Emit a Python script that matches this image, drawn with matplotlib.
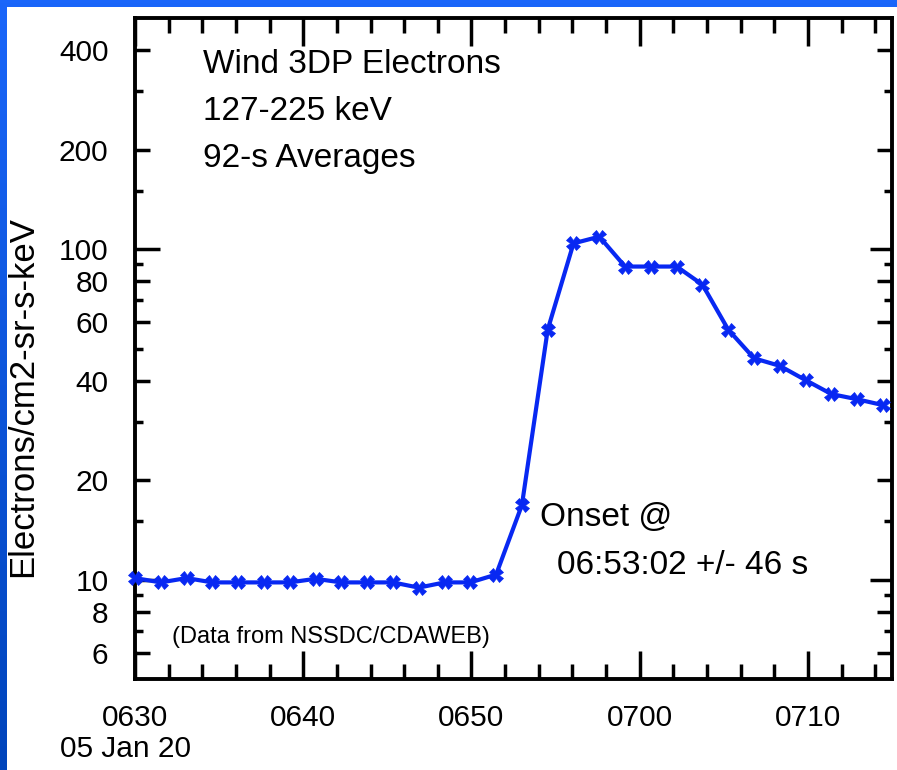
import matplotlib
matplotlib.use("Agg")
import numpy as np
import matplotlib.pyplot as plt
from matplotlib.colors import LinearSegmentedColormap
from matplotlib.patches import Rectangle
from matplotlib.ticker import FixedLocator, FixedFormatter, NullFormatter

plt.rcParams['font.family'] = ['Liberation Sans', 'DejaVu Sans']

# seconds after 06:30:00 (92-s averages)
t_sec = [0, 92, 184, 276, 368, 460, 552, 644, 736, 828,
         920, 1012, 1104, 1196, 1288, 1380, 1472, 1564, 1656, 1748,
         1840, 1932, 2024, 2116, 2208, 2300, 2392, 2484, 2576, 2668]
flux = [10.1, 9.8, 10.1, 9.8, 9.8, 9.8, 9.8, 10.05, 9.8, 9.8,
        9.8, 9.45, 9.8, 9.8, 10.35, 16.8, 57, 104, 109, 88.5,
        88.5, 88.5, 78, 57, 46.7, 44.3, 40.1, 36.4, 35.1, 33.7]

xtick_min = [0, 10, 20, 30, 40]
xtick_labels = ['0630', '0640', '0650', '0700', '0710']
xminor_min = [2, 4, 6, 8, 12, 14, 16, 18, 22, 24, 26, 28, 32, 34, 36, 38, 42, 44]
ytick_vals = [6, 8, 10, 20, 40, 60, 80, 100, 200, 400]
ytick_long = [10, 100]
yminor_vals = [7, 9, 15, 30, 50, 70, 90, 150, 300]

BLUE = '#0828f2'

fig = plt.figure(figsize=(8.97, 7.70), dpi=100)

# slide background: blue gradient frame with white panel
bg = fig.add_axes([0, 0, 1, 1], zorder=-5)
grad = LinearSegmentedColormap.from_list('slide', ['#1a66fa', '#0044bb'])
bg.imshow(np.linspace(0, 1, 256).reshape(-1, 1), aspect='auto', cmap=grad,
          extent=[0, 1, 1, 0])
bg.add_patch(Rectangle((7/897, 7/770), 1, 1, facecolor='white', edgecolor='none'))
bg.set_xlim(0, 1)
bg.set_ylim(1, 0)
bg.axis('off')

ax = fig.add_axes([135/897, 1 - 679/770, 757/897, 661/770])
ax.set_yscale('log')
ax.set_xlim(0, 45)
ax.set_ylim(5, 500)

ax.plot([t / 60 for t in t_sec], flux, color=BLUE, lw=3, marker='X',
        markersize=9.5, markeredgewidth=0.5, clip_on=False, zorder=3)

for s in ax.spines.values():
    s.set_linewidth(2.8)

ax.xaxis.set_major_locator(FixedLocator(xtick_min))
ax.xaxis.set_minor_locator(FixedLocator(xminor_min))
ax.set_xticklabels(xtick_labels)
ax.yaxis.set_major_locator(FixedLocator(ytick_vals))
ax.yaxis.set_minor_locator(FixedLocator(yminor_vals))
ax.yaxis.set_major_formatter(FixedFormatter([str(v) for v in ytick_vals]))
ax.yaxis.set_minor_formatter(NullFormatter())

ax.tick_params(which='both', direction='in', top=True, right=True, width=2.5,
               labelsize=21.5, colors='black')
ax.tick_params(axis='x', which='major', length=20, pad=18)
ax.tick_params(axis='x', which='minor', length=11)
ax.tick_params(axis='y', which='major', length=11, pad=19)
ax.tick_params(axis='y', which='minor', length=6)
for tick, v in zip(ax.yaxis.get_major_ticks(), ytick_vals):
    if v in ytick_long:
        tick.tick1line.set_markersize(18)
        tick.tick2line.set_markersize(16)

ax.set_ylabel('Electrons/cm2-sr-s-keV', fontsize=25)
ax.yaxis.set_label_coords(-0.126, 0.428)

ax.text(0.09, 0.929, 'Wind 3DP Electrons', transform=ax.transAxes, fontsize=24,
        va='center', ha='left')
ax.text(0.09, 0.858, '127-225 keV', transform=ax.transAxes, fontsize=24,
        va='center', ha='left')
ax.text(0.09, 0.787, '92-s Averages', transform=ax.transAxes, fontsize=24,
        va='center', ha='left')
ax.text(0.535, 0.245, 'Onset @', transform=ax.transAxes, fontsize=24,
        va='center', ha='left')
ax.text(0.557, 0.172, '06:53:02 +/- 46 s', transform=ax.transAxes, fontsize=24,
        va='center', ha='left')
ax.text(0.049, 0.064, '(Data from NSSDC/CDAWEB)', transform=ax.transAxes,
        fontsize=17, va='center', ha='left')

fig.text(60/897, 1 - 749/770, '05 Jan 20', fontsize=21.5, va='center', ha='left')

fig.savefig('out.png', dpi=100)
